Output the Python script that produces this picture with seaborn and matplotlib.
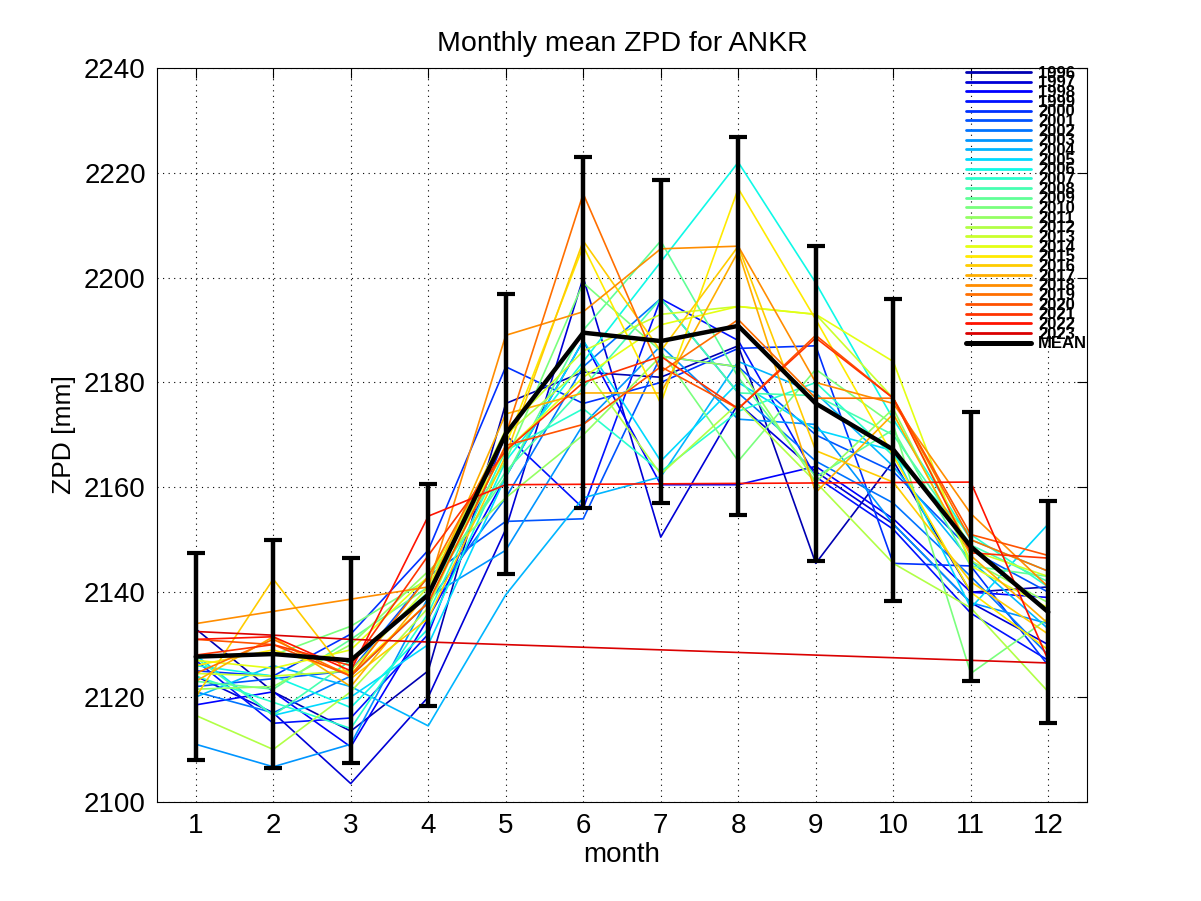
import numpy as np
import pandas as pd
import matplotlib
matplotlib.use("Agg")
import matplotlib.pyplot as plt
import seaborn as sns

nan = np.nan
months = list(range(1, 13))
years = [str(y) for y in range(1996, 2024)]

# monthly mean ZPD per year (mm)
zpd = {
    "1996": [2133, 2121, 2113.5, 2125, 2176, 2182, 2181, 2187, 2145.5, 2165, 2140, 2141],
    "1997": [2124, 2117, 2103.5, 2120, 2152, 2200, 2150.5, 2176, 2163, 2153, 2138, 2130],
    "1998": [2118.5, 2121, 2110.5, 2135, 2162, 2188, 2160.5, 2160.5, 2164, 2154, 2140, 2139],
    "1999": [2127, 2115, 2116, 2132, 2170, 2156, 2196, 2188, 2162, 2152, 2136, 2127],
    "2000": [2125, 2124, 2132, 2148, 2183, 2176, 2180, 2186.5, 2187, 2145.5, 2145, 2126],
    "2001": [2122, 2123.5, 2125, 2143, 2153.5, 2154, 2185, 2183, 2170, 2163, 2148, 2140],
    "2002": [2121, 2117, 2124, 2138, 2158, 2183, 2196, 2178, 2165, 2157, 2143, 2128],
    "2003": [2111, 2106.7, 2111, 2139, 2148, 2172, 2187, 2173, 2172, 2153, 2138, 2134],
    "2004": [2120, 2126, 2122, 2114.5, 2139.5, 2158, 2162, 2184, 2178, 2164, 2146, 2133],
    "2005": [2128, 2116.5, 2120, 2130, 2162, 2188, 2165, 2180, 2171, 2167, 2137, 2153],
    "2006": [2126, 2124, 2118, 2133, 2165, 2184, 2203, 2222, 2199, 2173, 2150, 2144],
    "2007": [2124, 2119, 2114, 2136, 2167, 2175, 2163, 2174.5, 2180, 2166, 2151, 2141],
    "2008": [2127.5, 2116.5, 2127, 2140, 2163, 2179, 2196, 2178, 2177.5, 2170, 2149, 2142],
    "2009": [2123, 2121.5, 2131, 2141, 2162, 2190, 2207, 2181, 2162, 2171, 2145, 2143],
    "2010": [2128, 2128, 2133.5, 2142.5, 2165, 2199, 2186, 2165, 2182.5, 2172, 2124.5, 2135],
    "2011": [2121.5, 2122, 2130, 2144, 2158, 2170, 2185, 2183, 2161, 2175, 2146, 2138],
    "2012": [2116.5, 2110, 2121, 2137, 2170, 2183, 2162.5, 2176, 2161, 2145.5, 2137, 2121],
    "2013": [2124.5, 2124, 2125, 2141, 2171, 2186, 2193, 2194.5, 2193, 2177, 2148, 2143],
    "2014": [2127, 2125.5, 2129, 2143, 2167, 2181, 2191, 2194.5, 2193, 2184, 2145, 2137],
    "2015": [2126, 2129, 2124.5, 2138, 2168, 2206, 2176, 2217, 2192, 2166, 2140, 2129],
    "2016": [2120, 2142.5, 2123.5, 2135, 2166, 2207, 2186, 2206, 2167, 2161, 2142, 2132],
    "2017": [2123, 2131.5, 2122, 2140, 2174, 2178, 2178, 2205, 2159, 2174, 2147, 2134],
    "2018": [2134, nan, nan, 2141, 2189, 2193.5, 2205.5, 2206, 2180, 2176, 2155, 2141],
    "2019": [2124.5, 2131, 2124, 2143, 2170, 2216, 2182, 2192, 2177, 2177, 2150, 2144],
    "2020": [2131, 2130, 2124, 2138, 2168, 2172, 2183, 2175, 2189, 2177, 2151, 2147],
    "2021": [2128, 2130, 2126, 2147, 2167, 2180, 2185, 2175, 2188.5, 2177, 2147.5, 2146.5],
    "2022": [2131, 2131.5, 2125, 2154.5, 2160.5, nan, nan, nan, nan, nan, 2161, 2127],
    "2023": [2132.5, 2131.8, 2131, nan, nan, nan, nan, nan, nan, nan, nan, 2126.5],
}

mean_zpd = [2127.7, 2128.2, 2127.0, 2139.5, 2170.2, 2189.5, 2187.9, 2190.8, 2176.0, 2167.2, 2148.7, 2136.2]
std_zpd = [19.8, 21.7, 19.6, 21.2, 26.7, 33.5, 30.8, 36.0, 30.0, 28.8, 25.7, 21.1]

rows = []
for y in years:
    for m, v in zip(months, zpd[y]):
        if not np.isnan(v):
            rows.append({"year": y, "month": m, "zpd": v})
df = pd.DataFrame(rows)

colors = [plt.cm.jet(c) for c in np.linspace(0.045, 0.92, len(years))]

sns.set_theme(style="white")
plt.rcParams["font.family"] = ["Liberation Sans", "DejaVu Sans"]
plt.rcParams["text.color"] = "black"
plt.rcParams["axes.labelcolor"] = "black"

fig = plt.figure(figsize=(12.01, 9.01), dpi=100)
ax = fig.add_axes([0.1307, 0.110, 0.7744, 0.8146])

sns.lineplot(data=df, x="month", y="zpd", hue="year", hue_order=years,
             palette=colors, estimator=None, sort=True, linewidth=1.2,
             legend=False, ax=ax)

ax.errorbar(months, mean_zpd, yerr=std_zpd, color="black", lw=3.2,
            elinewidth=3.2, capsize=6.3, capthick=3, zorder=10)

# legend handles a bit thicker than the plotted lines, like the original
handles = [plt.Line2D([], [], color=c, lw=2.0) for c in colors]
handles.append(plt.Line2D([], [], color="black", lw=3.6))
labels = years + ["MEAN"]

ax.set_xlim(0.5, 12.5)
ax.set_ylim(2100, 2240)
ax.set_xticks(months)
ax.set_yticks(range(2100, 2241, 20))
ax.grid(True, linestyle=(0, (1, 4)), color="black", lw=0.8)
ax.tick_params(direction="in", length=7, width=0.8, labelsize=20,
               top=True, right=True, colors="black", pad=8)
for s in ax.spines.values():
    s.set_color("black")
    s.set_linewidth(0.8)

ax.set_xlabel("month", fontsize=20, labelpad=2)
ax.set_ylabel("ZPD [mm]", fontsize=19, labelpad=6)
ax.set_title("Monthly mean ZPD for ANKR", fontsize=20.5, pad=12, color="black")

leg = ax.legend(handles, labels, loc="upper right", bbox_to_anchor=(1.0, 1.003),
                frameon=False, prop={"family": "Liberation Sans", "weight": "bold", "size": 12},
                labelspacing=-0.32, handlelength=3.9, handletextpad=0.45,
                borderaxespad=0.0, borderpad=0.0)

fig.savefig("out.png", dpi=100, facecolor="white")
